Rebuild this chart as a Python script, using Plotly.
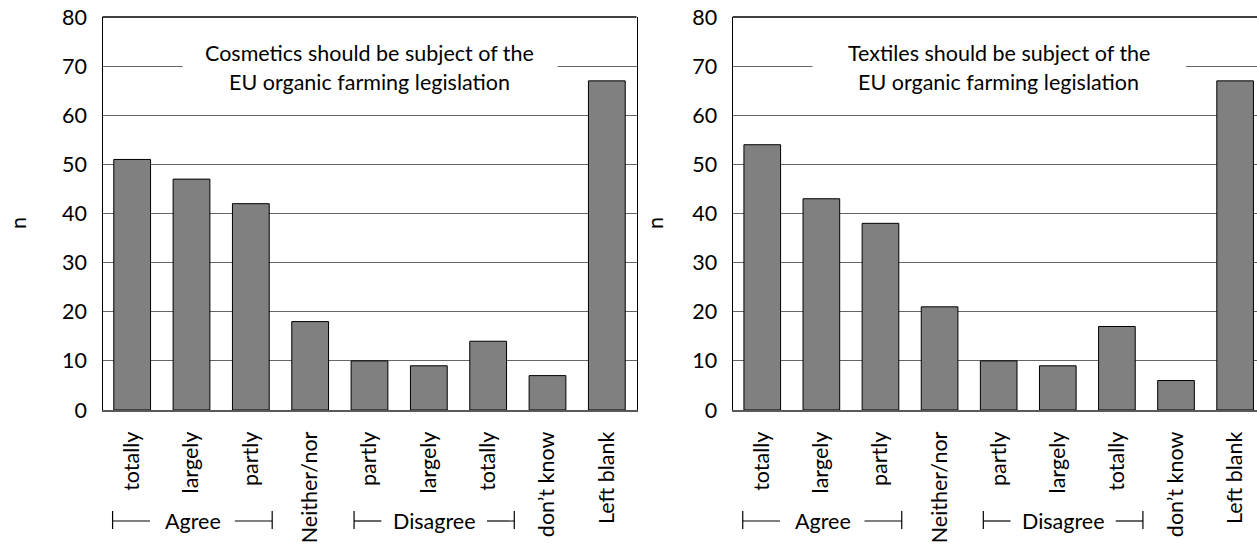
import plotly.graph_objects as go

# Response categories (x axis), shared by both panels
categories = ["totally", "largely", "partly", "Neither/nor", "partly",
              "largely", "totally", "don\u2019t know", "Left blank"]

# Counts per category
cosmetics = [51, 47, 42, 18, 10, 9, 14, 7, 67]
textiles = [54, 43, 38, 21, 10, 9, 17, 6, 67]

titles = ["Cosmetics should be subject of the", "EU organic farming legislation"]
titles2 = ["Textiles should be subject of the", "EU organic farming legislation"]

y_ticks = [0, 10, 20, 30, 40, 50, 60, 70, 80]

FONT = "Lato"
FS = 21.5
W, H = 1257, 549

positions = list(range(len(categories)))

fig = go.Figure()
fig.add_trace(go.Bar(x=positions, y=cosmetics, width=0.62,
                     marker=dict(color="#808080", line=dict(color="black", width=1)),
                     xaxis="x", yaxis="y", showlegend=False))
fig.add_trace(go.Bar(x=positions, y=textiles, width=0.62,
                     marker=dict(color="#808080", line=dict(color="black", width=1)),
                     xaxis="x2", yaxis="y2", showlegend=False))

y_top, y_bot = 17, 410
ydom = [(H - y_bot) / H, (H - y_top) / H]

common_x = dict(tickmode="array", tickvals=positions, ticktext=categories,
                tickangle=-90, showgrid=False, zeroline=False,
                showline=True, linecolor="#595959", linewidth=2,
                ticks="", ticklabelstandoff=11, automargin=False,
                tickfont=dict(family=FONT, size=FS, color="black"),
                fixedrange=True)
common_y = dict(range=[0, 80], tickmode="array", tickvals=y_ticks,
                showgrid=True, gridcolor="#666666", gridwidth=1,
                zeroline=False, showline=True, linecolor="black", linewidth=1.3,
                ticks="", ticklabelstandoff=10, automargin=False,
                tickfont=dict(family=FONT, size=FS, color="black"),
                fixedrange=True)

fig.update_layout(
    width=W, height=H,
    margin=dict(l=0, r=0, t=0, b=0, autoexpand=False),
    paper_bgcolor="white", plot_bgcolor="white",
    font=dict(family=FONT, size=FS, color="black"),
    xaxis=dict(domain=[102.5 / W, 636.5 / W], range=[-0.5, 8.5], anchor="y", **common_x),
    yaxis=dict(domain=ydom, anchor="x", mirror=True, **common_y),
    xaxis2=dict(domain=[732.7 / W, 1.0], range=[-0.5, 8.37], anchor="y2", **common_x),
    yaxis2=dict(domain=ydom, anchor="x2", mirror=False, **common_y),
)

shapes = []
annotations = []


def px_to_paper(py):
    return (H - py) / H


for xr, yr, ttl, n_x in [("x", "y", titles, 18), ("x2", "y2", titles2, 655)]:
    # top frame line
    shapes.append(dict(type="line", xref=f"{xr} domain", yref=f"{yr} domain",
                       x0=0, x1=1, y0=1, y1=1, line=dict(color="black", width=1.3)))
    # white panel behind the title text
    shapes.append(dict(type="rect", xref=xr, yref=yr, x0=0.85, x1=7.17, y0=62, y1=79,
                       fillcolor="white", line=dict(width=0), layer="between"))
    annotations.append(dict(text=ttl[0], xref=xr, yref=yr, x=4, y=72.7,
                            showarrow=False, font=dict(family=FONT, size=FS)))
    annotations.append(dict(text=ttl[1], xref=xr, yref=yr, x=4, y=66.8,
                            showarrow=False, font=dict(family=FONT, size=FS)))
    # y axis title
    annotations.append(dict(text="n", xref="paper", yref="paper", x=n_x / W,
                            xanchor="center", yanchor="middle",
                            y=px_to_paper(223), textangle=-90, showarrow=False,
                            font=dict(family=FONT, size=FS)))
    # group brackets below the tick labels
    yl = px_to_paper(521)
    yt0, yt1 = px_to_paper(511), px_to_paper(529)
    for a, b, la, lb, label, cx in [(-0.33, 2.36, 0.30, 1.73, "Agree", 1.02),
                                    (3.74, 6.44, 4.20, 5.98, "Disagree", 5.09)]:
        for xv in (a, b):
            shapes.append(dict(type="line", xref=xr, yref="paper", x0=xv, x1=xv,
                               y0=yt0, y1=yt1, line=dict(color="black", width=1.2)))
        shapes.append(dict(type="line", xref=xr, yref="paper", x0=a, x1=la,
                           y0=yl, y1=yl, line=dict(color="black", width=1.2)))
        shapes.append(dict(type="line", xref=xr, yref="paper", x0=lb, x1=b,
                           y0=yl, y1=yl, line=dict(color="black", width=1.2)))
        annotations.append(dict(text=label, xref=xr, yref="paper", x=cx, y=yl,
                                xanchor="center", yanchor="middle", showarrow=False,
                                font=dict(family=FONT, size=FS)))

fig.update_layout(shapes=shapes, annotations=annotations)

fig.write_html("out.html")
